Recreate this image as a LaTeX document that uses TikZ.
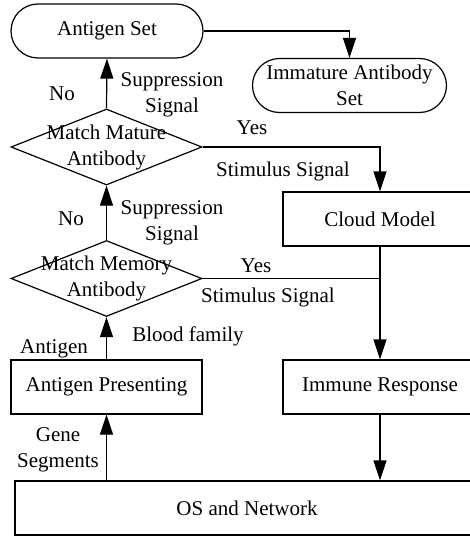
\documentclass[tikz,border=0pt]{standalone}
\usepackage{fontspec}
\setmainfont{Liberation Serif}
\usetikzlibrary{shapes.geometric,arrows.meta}
\begin{document}
\begin{tikzpicture}[x=1pt,y=-1pt,
  font=\fontsize{21}{26}\selectfont,
  line width=1.2pt,
  arr/.style={-{Triangle[length=20pt,width=13pt]}},
  term/.style={draw,rounded corners=27pt,minimum height=54pt,inner sep=0pt,align=center},
  box/.style={draw,minimum height=54pt,inner sep=0pt,align=center},
  dec/.style={draw,diamond,minimum width=191pt,minimum height=76pt,inner sep=0pt},
  lbl/.style={align=center,inner sep=0pt}]
\useasboundingbox (0,0) rectangle (470,536);
\node[term,minimum width=192pt] (as) at (107,31) {Antigen Set};
\node[term,minimum width=194pt] (ims) at (349.5,85.5) {Immature Antibody\\Set};
\node[dec,label={[lbl]center:Match Mature\\Antibody}] (d1) at (106.5,147) {};
\node[box,minimum width=194pt] (cm) at (380,219) {Cloud Model};
\node[dec,label={[lbl]center:Match Memory\\Antibody}] (d2) at (106.5,278.5) {};
\node[box,minimum width=191pt] (ap) at (106.5,387) {Antigen Presenting};
\node[box,minimum width=194pt] (ir) at (380,387) {Immune Response};
\node[box,minimum width=464pt] (os) at (247,508) {OS and Network};
\coordinate (j) at (d2.east -| cm.south);
\coordinate (g) at (ap.south |- os.north);
\coordinate (r) at (ir.south |- os.north);
\draw[arr] (as.east) -| (ims.north);
\draw[arr] (d1.north) -- (as.south);
\draw[arr] (d1.east) -| (cm.north);
\draw[arr] (d2.north) -- (d1.south);
\draw (d2.east) -- (j);
\draw[arr] (cm.south) -- (ir.north);
\draw[arr] (ap.north) -- (d2.south);
\draw[arr] (g) -- (ap.south);
\draw[arr] (ir.south) -- (r);
\node[lbl] (no1) at (62,94) {No};
\node[lbl] (ss1) at (172,95) {Suppression\\Signal};
\node[lbl] (y1) at (252,128) {Yes};
\node[lbl] (st1) at (283,171) {Stimulus Signal};
\node[lbl] (no2) at (71,219) {No};
\node[lbl] (ss2) at (172,223) {Suppression\\Signal};
\node[lbl] (y2) at (256,266) {Yes};
\node[lbl] (st2) at (268,297) {Stimulus Signal};
\node[lbl] (ag) at (54,349) {Antigen};
\node[lbl] (bf) at (188,336) {Blood family};
\node[lbl] (gs) at (58,450) {Gene\\Segments};
\end{tikzpicture}
\end{document}
